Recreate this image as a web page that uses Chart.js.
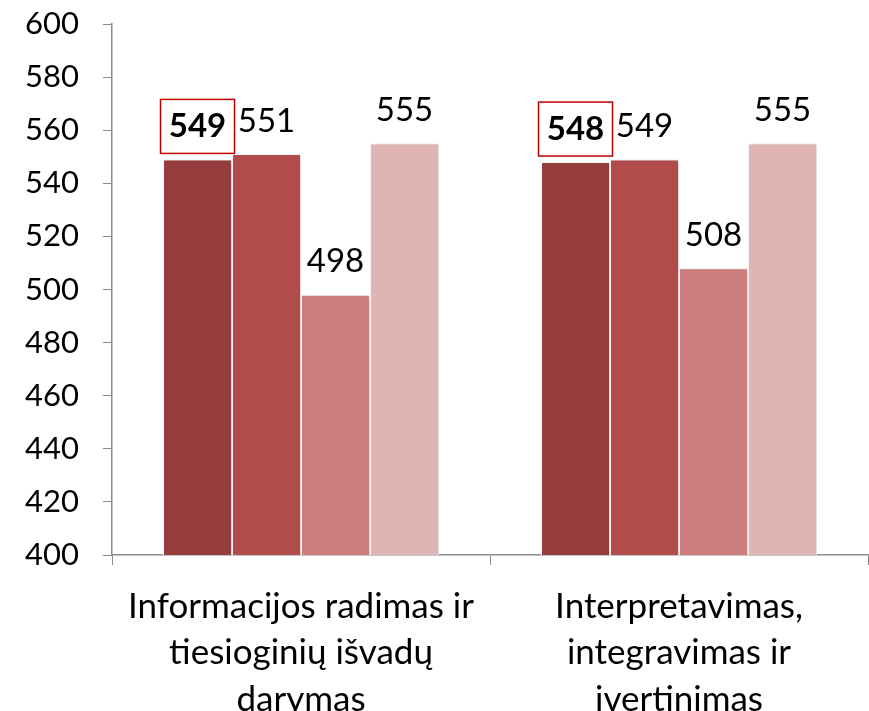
<!DOCTYPE html>
<html>
<head>
<meta charset="utf-8">
<script src="https://cdn.jsdelivr.net/npm/chart.js@4.4.1/dist/chart.umd.min.js"></script>
<style>
  html, body { margin: 0; padding: 0; background: #fff; }
  #wrap { width: 869px; height: 711px; }
</style>
</head>
<body>
<div id="wrap"><canvas id="chart" width="869" height="711"></canvas></div>
<script>
// categories and values
const categories = [
  ['Informacijos radimas ir', 'tiesioginių išvadų', 'darymas'],
  ['Interpretavimas,', 'integravimas ir', 'įvertinimas']
];
const series1 = [549, 548];
const series2 = [551, 549];
const series3 = [498, 508];
const series4 = [555, 555];
const barColors = ['#953C3C', '#B24C4A', '#CB7E7D', '#DFB4B4'];
const yTicks = [400, 420, 440, 460, 480, 500, 520, 540, 560, 580, 600];

const FONT = 'Lato, "Open Sans", sans-serif';

// value labels above bars, first series bold with a red frame
const valueLabels = {
  id: 'valueLabels',
  afterDatasetsDraw(chart) {
    const ctx = chart.ctx;
    ctx.save();
    chart.data.datasets.forEach((ds, di) => {
      const meta = chart.getDatasetMeta(di);
      meta.data.forEach((bar, i) => {
        const first = di === 0;
        ctx.font = (first ? 'bold ' : '') + '33px ' + FONT;
        ctx.fillStyle = '#000';
        ctx.textAlign = 'center';
        ctx.textBaseline = 'middle';
        const cy = bar.y - 33;
        ctx.fillText(String(ds.data[i]), bar.x, cy);
        if (first) {
          ctx.strokeStyle = '#C00000';
          ctx.lineWidth = 1.5;
          ctx.strokeRect(bar.x - 37, bar.y - 60, 74, 54);
        }
      });
    });
    ctx.restore();
  }
};

const barShadow = {
  id: 'barShadow',
  beforeDatasetsDraw(chart) {
    const ctx = chart.ctx;
    ctx.save();
    ctx.shadowColor = 'rgba(0,0,0,0.25)';
    ctx.shadowBlur = 3;
    ctx.shadowOffsetX = 1;
    ctx.shadowOffsetY = 1;
  },
  afterDatasetsDraw(chart) {
    chart.ctx.restore();
  }
};

const seriesData = [series1, series2, series3, series4];

new Chart(document.getElementById('chart').getContext('2d'), {
  type: 'bar',
  data: {
    labels: categories,
    datasets: seriesData.map((d, i) => ({
      label: 'S' + (i + 1),
      data: d,
      backgroundColor: barColors[i],
      borderColor: '#FFFFFF',
      borderWidth: 1,
      categoryPercentage: 0.73,
      barPercentage: 1
    }))
  },
  options: {
    responsive: false,
    animation: false,
    layout: { padding: { top: 24, right: 1, left: 0, bottom: 0 } },
    plugins: {
      legend: { display: false },
      tooltip: { enabled: false }
    },
    scales: {
      x: {
        offset: true,
        grid: {
          offset: true,
          drawOnChartArea: false,
          color: '#8C8C8C',
          tickLength: 10
        },
        border: { color: '#8C8C8C', width: 1.5 },
        ticks: {
          color: '#000',
          font: { family: FONT, size: 35, lineHeight: 1.33 },
          padding: 18,
          maxRotation: 0
        },
        afterFit(scale) {
          scale.height = 156;
          scale.paddingLeft = 0;
          scale.paddingRight = 0;
          scale.paddingTop = 0;
          scale.paddingBottom = 0;
        }
      },
      y: {
        min: 400,
        max: 600,
        afterBuildTicks(scale) { scale.ticks = yTicks.map(v => ({ value: v })); },
        grid: {
          drawOnChartArea: false,
          color: '#8C8C8C',
          tickLength: 9
        },
        border: { color: '#8C8C8C', width: 1.5 },
        ticks: {
          color: '#000',
          font: { family: FONT, size: 31 },
          padding: 24
        },
        afterFit(scale) {
          scale.width = 112;
          scale.paddingTop = 0;
          scale.paddingBottom = 0;
        }
      }
    }
  },
  plugins: [barShadow, valueLabels]
});
</script>
</body>
</html>
